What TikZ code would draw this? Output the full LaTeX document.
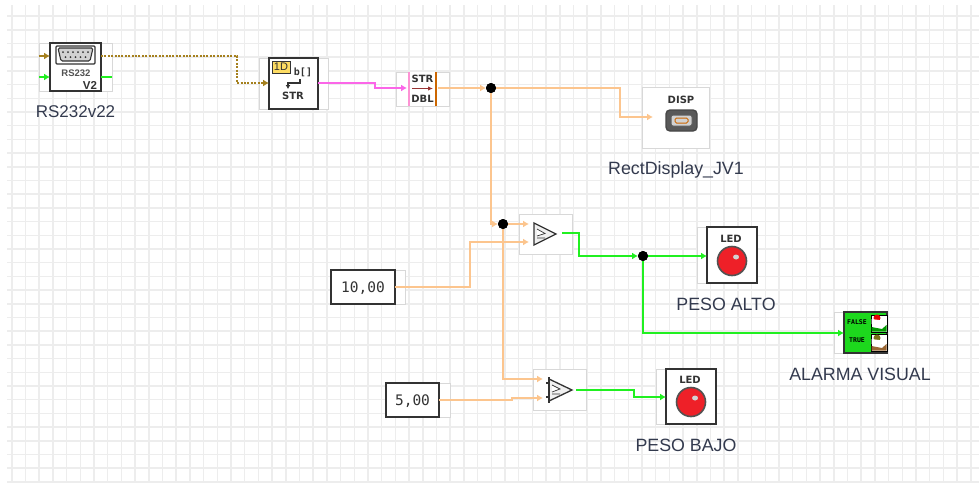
\documentclass[tikz,border=0pt]{standalone}
\usepackage{fontspec}
\setmainfont{Liberation Sans}
\newfontfamily\monof{DejaVu Sans Mono}
\newfontfamily\iconf{DejaVu Sans}
\usetikzlibrary{arrows.meta,calc}
\definecolor{gridc}{HTML}{EDEDED}
\definecolor{frame}{HTML}{D8D8D8}
\definecolor{blk}{HTML}{333333}
\definecolor{orw}{HTML}{FCC58E}
\definecolor{grw}{HTML}{20F020}
\definecolor{pkw}{HTML}{FB66E8}
\definecolor{brw}{HTML}{A5801E}
\definecolor{labc}{HTML}{333A4E}
\definecolor{ledr}{HTML}{EE2028}
\tikzset{
 x=1pt,y=-1pt,
 gridl/.style={gridc,line width=1.5pt},
 outerbox/.style={draw=frame,fill=white,line width=1pt,inner sep=0,outer sep=0},
 blackbox/.style={draw=blk,fill=white,line width=1.4pt,inner sep=0,outer sep=0},
 lab/.style={text=labc,font=\fontsize{17.8}{17.8}\selectfont,inner sep=0},
 tiny/.style={text=blk,font=\iconf\bfseries\fontsize{10}{10}\selectfont,inner sep=0},
 num/.style={text=blk,font=\monof\fontsize{14.5}{14.5}\selectfont,inner sep=0},
 wiretip/.style={-{Latex[length=6pt,width=7pt]}},
 orange/.style={orw,line width=2.3pt,line join=miter},
 green/.style={grw,line width=2.3pt},
 pink/.style={pkw,line width=2.3pt},
 brown/.style={brw,line width=2.6pt,dash pattern=on 2pt off 1.4pt},
 junct/.style={circle,fill=black,minimum size=10pt,inner sep=0,outer sep=0},
 cmp/.style={draw=blk,fill=white,line width=1.3pt,line join=miter},
 ledlamp/.style={circle,fill=ledr,draw=blk!85,line width=1.6pt,minimum size=29pt,inner sep=0},
}
\begin{document}
\begin{tikzpicture}
\useasboundingbox (0,0) rectangle (979,482);
\fill[white] (0,0) rectangle (979,482);
\begin{scope}
\clip (0,0) rectangle (979,482);
\foreach \i in {0,...,70} {\pgfmathsetmacro{\xx}{11.8+13.7*\i}\draw[gridl] (\xx,5) -- (\xx,482);}
\foreach \i in {0,...,34} {\pgfmathsetmacro{\yy}{16.1+13.7*\i}\draw[gridl] (7,\yy) -- (979,\yy);}
\end{scope}

% frames and bodies
\node[outerbox,minimum width=73pt,minimum height=48pt] (rsf) at (75.5,67) {};
\node[blackbox,minimum width=51pt,minimum height=48pt] (rs) at (75.5,67) {};
\node[outerbox,minimum width=69pt,minimum height=51pt] (tsf) at (293.5,83.5) {};
\node[blackbox,minimum width=49pt,minimum height=51pt] (ts) at (293.5,83.5) {};
\node[outerbox,minimum width=53pt,minimum height=34pt] (sd) at (422.5,89) {};
\node[outerbox,minimum width=67pt,minimum height=61pt] (disp) at (675.5,117.5) {};
\node[outerbox,minimum width=53pt,minimum height=40pt] (c1) at (545.5,234) {};
\node[outerbox,minimum width=53pt,minimum height=41pt] (c2) at (559.5,389.5) {};
\node[outerbox,minimum width=74pt,minimum height=34pt] (k1f) at (368,287) {};
\node[blackbox,minimum width=64pt,minimum height=34pt] (k1) at (363,287) {};
\node[num] at (363,288) {10,00};
\node[outerbox,minimum width=64pt,minimum height=34pt] (k2f) at (418,400) {};
\node[blackbox,minimum width=53pt,minimum height=34pt] (k2) at (412.5,400) {};
\node[num] at (412.5,401) {5,00};
\node[outerbox,minimum width=60pt,minimum height=56pt] (l1f) at (727,255) {};
\node[blackbox,minimum width=50pt,minimum height=56pt] (l1) at (732,255) {};
\node[outerbox,minimum width=60pt,minimum height=55pt] (l2f) at (686,396.5) {};
\node[blackbox,minimum width=50pt,minimum height=55pt] (l2) at (691,396.5) {};
\node[outerbox,minimum width=53pt,minimum height=41pt] (alf) at (860.5,332.5) {};
\node[draw=blk,fill=grw!90!black,line width=1.2pt,minimum width=43pt,minimum height=41pt,inner sep=0,outer sep=0] (al) at (865.5,332.5) {};

% port coordinates
\coordinate (rsin) at (39,56);
\coordinate (rsclk) at (39,77);
\coordinate (rsout) at (101,56);
\coordinate (rsout2) at (112,77);
\coordinate (tsin) at (269,83);
\coordinate (tsout) at (318,83);
\coordinate (sdin) at (407,88);
\coordinate (sdout) at (438,88);
\coordinate (dispin) at (653,117);
\coordinate (c1a) at (529,224);
\coordinate (c1b) at (529,242);
\coordinate (c1out) at (562,233);
\coordinate (c2a) at (543,379);
\coordinate (c2b) at (543,398);
\coordinate (c2out) at (576,390);
\coordinate (l1in) at (707,256);
\coordinate (l2in) at (666,397);
\coordinate (alin) at (844,333);
\node[junct] (j1) at (491,88) {};
\node[junct] (j2) at (503,224) {};
\node[junct] (j3) at (643,256) {};

% connectors
\draw[brw,line width=2.3pt,wiretip] (rsin) -- (rs.west |- rsin);
\draw[green,wiretip] (rsclk) -- (rs.west |- rsclk);
\draw[green] (rs.east |- rsout2) -- (rsout2);
\draw[brown] (rsout) -- (237,56) -- (237,83) -- (262,83);
\draw[brw,line width=2.3pt,wiretip] (262,83) -- (tsin);
\draw[pink,wiretip] (tsout) -- (375,83) -- (375,88) -- (sdin);
\draw[orange,wiretip] (sdout) -- (j1.west);
\draw[orange,wiretip] (j1) -- (620,88) -- (620,117) -- (dispin);
\draw[orange,wiretip] (j1) -- (491,224) -- (j2.west);
\draw[orange,wiretip] (j2.east) -- (c1a);
\draw[orange,wiretip] (k1.east) -- (470,287) -- (470,242) -- (c1b);
\draw[orange,wiretip] (j2) -- (503,379) -- (c2a);
\draw[orange,wiretip] (k2.east) -- (512,400) -- (512,398) -- (c2b);
\draw[green,wiretip] (c1out) -- (579,233) -- (579,256) -- (j3.west);
\draw[green,wiretip] (j3.east) -- (l1in);
\draw[green,wiretip] (j3) -- (643,333) -- (alin);
\draw[green,wiretip] (c2out) -- (634,390) -- (634,397) -- (l2in);
\node[junct] at (j1) {};
\node[junct] at (j2) {};
\node[junct] at (j3) {};

% RS232 icon
\draw[blk,line width=1.4pt,fill=white,rounded corners=1pt] (56,46) rectangle (95,64);
\draw[blk,line width=1.1pt,fill=gray!35,rounded corners=1.5pt] (58,48) -- (93,48) -- (90,61) -- (61,61) -- cycle;
\foreach \px in {63,68,...,88} \fill[blk] (\px,52) circle (1pt);
\foreach \px in {65.5,70.5,...,85.5} \fill[blk] (\px,57) circle (1pt);
\node[text=blk!85,font=\bfseries\fontsize{9.5}{9.5}\selectfont,inner sep=0] at (76,73) {RS232};
\node[text=blk,font=\bfseries\fontsize{11.5}{11.5}\selectfont,inner sep=0] at (90,85) {V2};

% to-string icon
\fill[yellow!60!orange!60,draw=blk,line width=1pt] (272,61) rectangle (290,73);
\node[text=blk,font=\fontsize{11}{11}\selectfont,inner sep=0] at (281,67) {1D};
\node[text=blk,font=\monof\bfseries\fontsize{10}{10}\selectfont,inner sep=0] at (303,72) {b[]};
\draw[blk,line width=1.3pt,-{Latex[length=4pt,width=5pt]}] (300,79) -- (300,83) -- (288,83) -- (288,89);
\node[text=blk,font=\iconf\bfseries\fontsize{10}{10}\selectfont,inner sep=0] at (293,96) {STR};

% str to dbl icon
\fill[white] (409,72) rectangle (436,106);
\draw[pkw!50!pink,line width=1.5pt] (409,72) -- (409,106);
\draw[orange!80!black,line width=2pt] (436,72) -- (436,106);
\node[tiny] at (422.5,79) {STR};
\node[tiny] at (422.5,99) {DBL};
\draw[red!50!black!80,line width=1.2pt,-{Latex[length=5pt,width=4.5pt]}] (412,88.5) -- (433,88.5);

% display icon
\node[tiny] at (681,100) {DISP};
\draw[blk!90,fill=gray!70!black,line width=1.4pt,rounded corners=4pt] (666,110) rectangle (697,131);
\draw[blk!80,fill=gray!35,line width=1pt,rounded corners=2pt] (671,115) rectangle (692,126);
\draw[orange!80!black,line width=1pt,rounded corners=1.5pt] (675,118) rectangle (688,123);

% comparators
\draw[cmp,fill=gray!12] (534,223) -- (556,234) -- (534,245) -- cycle;
\draw[cmp,line width=.7pt] (537,229) -- (545,233.5) -- (537,236) (537,238) -- (545,238);
\draw[cmp,fill=gray!12] (549,379) -- (572,390) -- (549,401) -- cycle;
\draw[cmp] (549,377) -- (549,403) (546,383) -- (549,383) (546,397) -- (549,397);
\draw[cmp,line width=.7pt] (552,385) -- (560,389) -- (552,392) (552,394) -- (560,394);

% LEDs
\node[tiny] at (731,239) {LED};
\node[ledlamp] at (732,261) {};
\fill[gray!35] (736,257) ellipse (3pt and 2.5pt);
\node[tiny] at (690,380) {LED};
\node[ledlamp] at (691,402) {};
\fill[gray!35] (695,398) ellipse (3pt and 2.5pt);

% alarm icon
\node[text=black,font=\monof\bfseries\fontsize{6.5}{6.5}\selectfont,inner sep=0] at (857,322) {FALSE};
\node[text=black,font=\monof\bfseries\fontsize{6.5}{6.5}\selectfont,inner sep=0] at (857,340) {TRUE};
\fill[white,draw=black,line width=.8pt] (871,315) rectangle (887,332);
\fill[red!90!black] (877,318) circle (3.5pt);
\fill[white] (871.5,319) -- (886.5,321) -- (886.5,326) -- (871.5,324) -- cycle;
\fill[green!60!black] (871.5,331.5) -- (871.5,327) -- (882,329) -- (886.5,325) -- (886.5,331.5) -- cycle;
\fill[white,draw=black,line width=.8pt] (871,334) rectangle (887,351);
\fill[olive!80!black] (877,338) circle (3.5pt);
\fill[white] (871.5,339) -- (886.5,341) -- (886.5,346) -- (871.5,344) -- cycle;
\fill[brown!80!black] (871.5,350.5) -- (871.5,346) -- (882,348) -- (886.5,344) -- (886.5,350.5) -- cycle;

% labels
\node[lab,font=\fontsize{17}{17}\selectfont] at (75.5,112) {RS232v22};
\node[lab] at (676,170) {RectDisplay\_JV1};
\node[lab] at (726,304) {PESO ALTO};
\node[lab] at (686,445) {PESO BAJO};
\node[lab] at (860,374) {ALARMA VISUAL};
\end{tikzpicture}
\end{document}
